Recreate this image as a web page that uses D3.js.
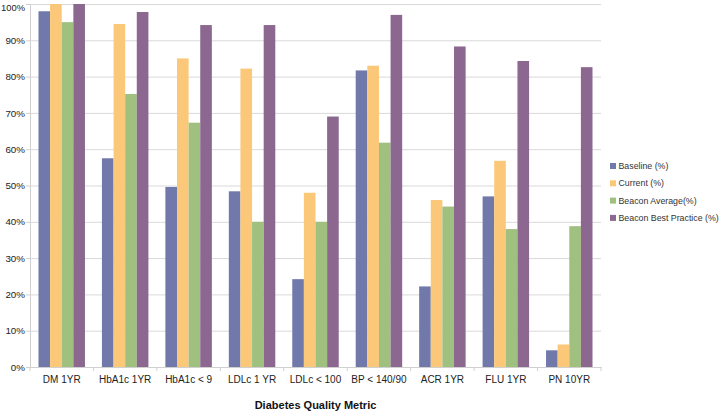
<!DOCTYPE html>
<html><head><meta charset="utf-8">
<script src="https://cdn.jsdelivr.net/npm/d3@7"></script>
<style>body{margin:0;background:#fff;} svg{display:block;font-family:"Liberation Sans",Arial,Helvetica,sans-serif;}</style>
</head><body>
<svg id="chart" width="723" height="411"></svg>
<script>
const categories = ["DM 1YR","HbA1c 1YR","HbA1c < 9","LDLc 1 YR","LDLc < 100","BP < 140/90","ACR 1YR","FLU 1YR","PN 10YR"];
const seriesNames = ["Baseline (%)","Current (%)","Beacon Average(%)","Beacon Best Practice (%)"];
const baseline = [98, 57.5, 49.6, 48.4, 24.2, 81.7, 22.2, 47, 4.6];
const current = [100, 94.5, 85, 82.2, 48, 83, 46, 56.8, 6.2];
const beaconAvg = [95, 75.2, 67.3, 40, 40, 61.8, 44.2, 38, 38.8];
const bestPractice = [100, 97.8, 94.2, 94.2, 69, 97, 88.3, 84.3, 82.6];
const yTicks = [0,10,20,30,40,50,60,70,80,90,100];
const colors = ["#7079aa","#fac878","#a0c080","#8c6890"];

(function(){
const series = [baseline, current, beaconAvg, bestPractice];
const svg = d3.select("#chart");
const mLeft = 30, mRight = 601, mTop = 4, mBottom = 367;

const x0 = d3.scaleBand().domain(categories).range([mLeft, mRight]).paddingInner(0).paddingOuter(0);
const x1 = d3.scaleBand().domain(d3.range(4)).range([0, x0.bandwidth()]).paddingOuter(0.73).paddingInner(0);
const y = d3.scaleLinear().domain([0,100]).range([mBottom, mTop]);

// gridlines
svg.append("g").selectAll("line").data(yTicks.filter(d=>d>0)).join("line")
  .attr("x1", mLeft).attr("x2", mRight).attr("y1", d=>y(d)+0.5).attr("y2", d=>y(d)+0.5)
  .attr("stroke","#d9d9d9").attr("stroke-width",1);

// bars
const g = svg.append("g");
categories.forEach((c, i) => {
  series.forEach((s, j) => {
    g.append("rect")
      .attr("x", x0(c) + x1(j))
      .attr("width", x1.bandwidth())
      .attr("y", y(s[i]))
      .attr("height", y(0) - y(s[i]))
      .attr("fill", colors[j]);
  });
});

// y axis
const yAxis = d3.axisLeft(y).tickValues(yTicks).tickFormat(d=>d+"%").tickSize(4).tickPadding(1);
const ya = svg.append("g").attr("transform", `translate(${mLeft},0)`).call(yAxis);
ya.select(".domain").attr("stroke","#d0d0d0");
ya.selectAll(".tick line").attr("stroke","#d0d0d0");
ya.selectAll("text").attr("fill","#222").style("font-size","9.8px");
ya.selectAll(".tick").filter(d=>d===100).select("text").attr("dy","0.72em").style("font-size","9.4px");

// x axis
const xAxis = d3.axisBottom(x0).tickSize(0).tickPadding(9);
const xa = svg.append("g").attr("transform", `translate(0,${mBottom})`).call(xAxis);
xa.select(".domain").attr("stroke","#d0d0d0");
xa.selectAll("text").attr("fill","#222").style("font-size","10px");
xa.append("g").selectAll("line").data(d3.range(categories.length+1)).join("line")
  .attr("x1", i=> mLeft + i*x0.step()).attr("x2", i=> mLeft + i*x0.step())
  .attr("y1",0).attr("y2",4).attr("stroke","#d0d0d0");

// x title
svg.append("text").attr("x",(mLeft+mRight)/2).attr("y",409).attr("text-anchor","middle")
  .style("font-size","11px").style("font-weight","bold").attr("fill","#111").text("Diabetes Quality Metric");

// legend
const lg = svg.append("g").attr("transform","translate(610,163)");
seriesNames.forEach((n,i)=>{
  lg.append("rect").attr("x",0).attr("y",i*17.3).attr("width",6).attr("height",6).attr("fill",colors[i]);
  lg.append("text").attr("x",8.5).attr("y",i*17.3+3).attr("dy","0.35em")
    .style("font-size","8.8px").attr("fill","#333").text(n);
});
})();
</script>
</body></html>
